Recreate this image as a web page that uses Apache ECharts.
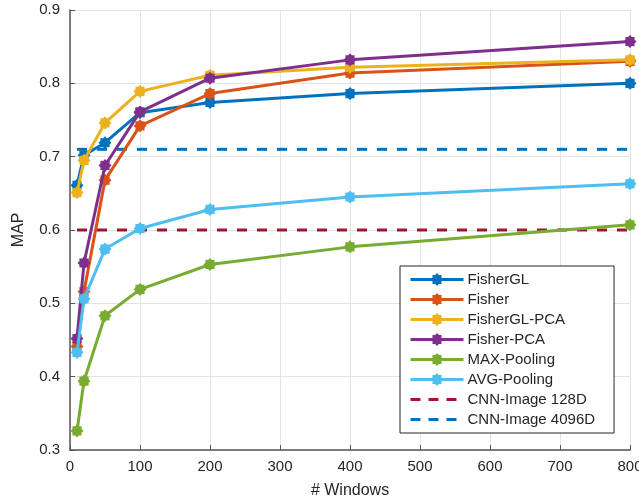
<!DOCTYPE html>
<html><head><meta charset="utf-8">
<script src="https://cdn.jsdelivr.net/npm/echarts@6/dist/echarts.min.js"></script>
<style>html,body{margin:0;padding:0;background:#fff}#c{width:639px;height:501px}</style>
</head><body><div id="c"></div>
<script>
var windows = [10, 20, 50, 100, 200, 400, 800];
var fisherGL    = [0.661, 0.702, 0.719, 0.760, 0.774, 0.786, 0.800];
var fisher      = [0.441, 0.516, 0.668, 0.742, 0.786, 0.814, 0.830];
var fisherGLPCA = [0.651, 0.695, 0.746, 0.789, 0.811, 0.822, 0.832];
var fisherPCA   = [0.452, 0.555, 0.688, 0.761, 0.807, 0.832, 0.857];
var maxPooling  = [0.326, 0.394, 0.483, 0.519, 0.553, 0.577, 0.607];
var avgPooling  = [0.433, 0.506, 0.574, 0.602, 0.628, 0.645, 0.663];
var cnn128  = 0.60;
var cnn4096 = 0.71;
var cnnRange = [10, 800];

var names = ['FisherGL','Fisher','FisherGL-PCA','Fisher-PCA','MAX-Pooling','AVG-Pooling','CNN-Image 128D','CNN-Image 4096D'];
var colors = ['#0072BD','#D95319','#EDB120','#7E2F8E','#77AC30','#4DBEEE','#A2142F','#0072BD'];
var star = 'path://M100,50L85.1,64.5L85.4,85.4L64.5,85.1L50,100L35.5,85.1L14.6,85.4L14.9,64.5L0,50L14.9,35.5L14.6,14.6L35.5,14.9L50,0L64.5,14.9L85.4,14.6L85.1,35.5Z';

function pairs(ys){ return windows.map(function(x,i){return [x, ys[i]];}); }
var solid = [fisherGL, fisher, fisherGLPCA, fisherPCA, maxPooling, avgPooling];
var series = solid.map(function(ys, i){
  return {name: names[i], type:'line', data: pairs(ys), symbol: star, symbolSize: 13,
    lineStyle:{width:3, color: colors[i]}, itemStyle:{color: colors[i]}, z: 2+i, animation:false};
});
[cnn128, cnn4096].forEach(function(v, j){
  var i = 6 + j;
  series.push({name: names[i], type:'line', data: cnnRange.map(function(x){return [x, v];}),
    symbol:'none', lineStyle:{width:3, color: colors[i], type:[10,10]}, itemStyle:{color: colors[i]}, z: 1, animation:false});
});

var legendData = names.map(function(n, i){
  return i < 6 ? {name:n} : {name:n, itemStyle:{opacity:0}, lineStyle:{width:3, type:[10,8]}};
});

var txt = '#262626';
var chart = echarts.init(document.getElementById('c'));
chart.setOption({
  animation:false,
  color: colors,
  textStyle:{fontFamily:'Liberation Sans, Arial, sans-serif'},
  grid:{left:70, right:9, top:10, bottom:51, containLabel:false, outerBoundsMode:'none'},
  xAxis:{type:'value', min:0, max:800, interval:100, name:'# Windows', nameLocation:'middle', nameGap:33,
    nameTextStyle:{fontSize:16, color:txt},
    axisLine:{onZero:false, lineStyle:{color:'#555', width:1.5}},
    axisTick:{inside:true, length:5, lineStyle:{color:'#555'}},
    axisLabel:{fontSize:15, color:txt, margin:9, hideOverlap:false},
    splitLine:{show:true, lineStyle:{color:'#e3e3e3', width:1}}},
  yAxis:{type:'value', min:0.3, max:0.9, interval:0.1, name:'MAP', nameLocation:'middle', nameGap:43,
    nameTextStyle:{fontSize:16, color:txt},
    axisLine:{show:true, lineStyle:{color:'#555', width:1.5}},
    axisTick:{show:true, inside:true, length:5, lineStyle:{color:'#555'}},
    axisLabel:{fontSize:15, color:txt, margin:10, formatter:function(v){return v.toFixed(1);}},
    splitLine:{show:true, lineStyle:{color:'#e3e3e3', width:1}}},
  legend:{orient:'vertical', left:400, top:266, itemWidth:53, itemHeight:16, itemGap:5,
    padding:[6, 19, 6, 9], borderColor:'#262626', borderWidth:1, backgroundColor:'#fff',
    lineStyle:{width:3},
    textStyle:{fontSize:15, color:txt, padding:[0,0,0,-1]}, data: legendData},
  series: series
});
</script></body></html>
